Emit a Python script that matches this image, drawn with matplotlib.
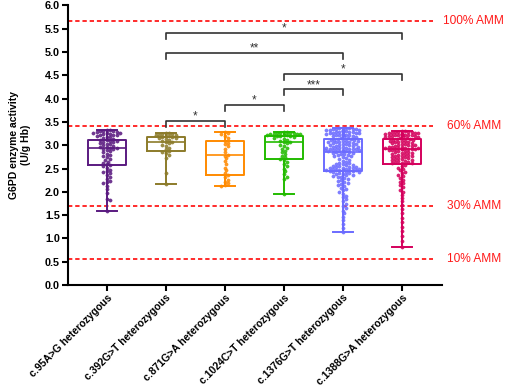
import matplotlib.pyplot as plt
import numpy as np

plt.rcParams["font.family"] = ["Liberation Sans", "DejaVu Sans"]

groups = ["c.95A>G heterozygous", "c.392G>T heterozygous", "c.871G>A heterozygous",
          "c.1024C>T heterozygous", "c.1376G>T heterozygous", "c.1388G>A heterozygous"]
colors = ["#5a1a80", "#8c7b2a", "#ff8a00", "#22bb00", "#6b6bff", "#d4005c"]

# box stats (whiskers = min / max)
lows = [1.60, 2.16, 2.12, 1.95, 1.13, 0.82]
q1s = [2.58, 2.88, 2.36, 2.71, 2.44, 2.60]
meds = [2.95, 3.08, 2.79, 3.08, 2.86, 2.91]
q3s = [3.11, 3.17, 3.10, 3.20, 3.13, 3.13]
highs = [3.33, 3.27, 3.29, 3.28, 3.38, 3.30]

g0 = [3.33, 3.32, 3.31, 3.30, 3.30, 3.29, 3.28, 3.27, 3.27, 3.26, 3.25, 3.24, 3.23, 3.22,
      3.21, 3.20, 3.18, 3.17, 3.15, 3.14, 3.12, 3.11, 3.10, 3.09, 3.08, 3.06, 3.05, 3.03,
      3.02, 3.00, 2.99, 2.97, 2.96, 2.95, 2.94, 2.93, 2.91, 2.89, 2.87, 2.85, 2.82, 2.80,
      2.77, 2.74, 2.71, 2.68, 2.65, 2.62, 2.59, 2.57, 2.55, 2.52, 2.48, 2.45, 2.42, 2.40,
      2.37, 2.33, 2.28, 2.23, 2.21, 2.18, 2.13, 2.06, 1.98, 1.85, 1.82, 1.60]
g1 = [3.27, 3.26, 3.25, 3.24, 3.23, 3.22, 3.21, 3.20, 3.19, 3.18, 3.17, 3.16, 3.15, 3.13,
      3.11, 3.09, 3.08, 3.06, 3.04, 3.01, 2.98, 2.95, 2.91, 2.88, 2.86, 2.83, 2.79, 2.73,
      2.40, 2.16]
g2 = [3.29, 3.27, 3.24, 3.20, 3.15, 3.10, 3.05, 3.02, 2.98, 2.92, 2.85, 2.80, 2.78, 2.72,
      2.66, 2.60, 2.52, 2.46, 2.40, 2.36, 2.31, 2.26, 2.22, 2.18, 2.15, 2.12]
g3 = [3.28, 3.28, 3.27, 3.27, 3.26, 3.26, 3.25, 3.25, 3.24, 3.24, 3.23, 3.23, 3.22, 3.21,
      3.20, 3.20, 3.19, 3.18, 3.16, 3.14, 3.12, 3.10, 3.08, 3.06, 3.04, 3.01, 2.98, 2.95,
      2.92, 2.88, 2.85, 2.81, 2.77, 2.74, 2.71, 2.68, 2.64, 2.60, 2.55, 2.50, 2.44, 2.38,
      2.33, 2.28, 1.95]
g4 = [3.38, 3.37, 3.36, 3.36, 3.35, 3.35, 3.34, 3.34, 3.33, 3.33, 3.32, 3.32, 3.31, 3.31,
      3.30, 3.30, 3.29, 3.29, 3.28, 3.28, 3.27, 3.27, 3.26, 3.26, 3.25, 3.25, 3.24, 3.23,
      3.23, 3.22, 3.21, 3.21, 3.20, 3.19, 3.18, 3.17, 3.16, 3.15, 3.14, 3.13,
      3.12, 3.11, 3.11, 3.10, 3.09, 3.09, 3.08, 3.07, 3.06, 3.06, 3.05, 3.04, 3.03, 3.03,
      3.02, 3.01, 3.00, 3.00, 2.99, 2.98, 2.97, 2.97, 2.96, 2.95, 2.95, 2.94, 2.93, 2.93,
      2.92, 2.91, 2.91, 2.90, 2.90, 2.89, 2.89, 2.88, 2.88, 2.87, 2.87, 2.86,
      2.85, 2.84, 2.83, 2.82, 2.81, 2.80, 2.79, 2.77, 2.76, 2.74, 2.72, 2.70, 2.68, 2.66,
      2.64, 2.62, 2.61, 2.60, 2.59, 2.58, 2.57, 2.56, 2.55, 2.54, 2.54, 2.53, 2.52, 2.52,
      2.51, 2.50, 2.50, 2.49, 2.48, 2.48, 2.47, 2.47, 2.46, 2.46, 2.45, 2.44,
      2.43, 2.42, 2.42, 2.41, 2.40, 2.39, 2.38, 2.37, 2.36, 2.35, 2.33, 2.31, 2.29, 2.27,
      2.25, 2.23, 2.21, 2.19, 2.17, 2.15, 2.12, 2.09, 2.06, 2.03, 2.00, 1.96, 1.92, 1.88,
      1.84, 1.80, 1.75, 1.70, 1.65, 1.60, 1.54, 1.47, 1.40, 1.32, 1.22, 1.13]
g5 = [3.30, 3.30, 3.29, 3.29, 3.28, 3.28, 3.27, 3.27, 3.26, 3.26, 3.25, 3.25, 3.24, 3.24,
      3.23, 3.23, 3.22, 3.22, 3.21, 3.21, 3.20, 3.20, 3.19, 3.18, 3.18, 3.17, 3.16, 3.15,
      3.14, 3.13,
      3.12, 3.11, 3.10, 3.10, 3.09, 3.08, 3.07, 3.06, 3.05, 3.04, 3.03, 3.02, 3.01, 3.00,
      3.00, 2.99, 2.98, 2.97, 2.96, 2.96, 2.95, 2.95, 2.94, 2.94, 2.93, 2.93, 2.92, 2.92,
      2.91, 2.91,
      2.90, 2.89, 2.88, 2.87, 2.86, 2.85, 2.84, 2.83, 2.82, 2.81, 2.80, 2.79, 2.78, 2.77,
      2.76, 2.75, 2.74, 2.73, 2.72, 2.71, 2.70, 2.69, 2.68, 2.67, 2.66, 2.65, 2.64, 2.63,
      2.62, 2.61,
      2.58, 2.55, 2.52, 2.49, 2.46, 2.43, 2.40, 2.37, 2.34, 2.30, 2.26, 2.22, 2.18, 2.14,
      2.10, 2.05, 2.00, 1.94, 1.87, 1.80, 1.72, 1.64, 1.55, 1.45, 1.35, 1.25, 1.15, 1.05,
      0.95, 0.82]
points = [g0, g1, g2, g3, g4, g5]

ref_vals = [5.67, 3.41, 1.70, 0.57]
ref_labels = ["100% AMM", "60% AMM", "30% AMM", "10% AMM"]

# (group a, group b, bracket height, stars)
sig = [(1, 5, 5.41, "*"), (1, 4, 4.99, "**"), (3, 5, 4.53, "*"),
       (3, 4, 4.20, "***"), (2, 3, 3.87, "*"), (1, 2, 3.52, "*")]


def swarm(vals, xpx=59.0, ypx=46.6, d=3.0, maxw=0.31):
    # simple deterministic beeswarm offsets (in data units)
    vals = np.asarray(vals)
    order = np.argsort(-vals, kind="stable")
    placed = []
    offs = np.zeros(len(vals))
    cands = [0.0]
    for k in range(1, 40):
        cands += [k * d * 0.55, -k * d * 0.55]
    for i in order:
        y = vals[i] * ypx
        chosen = 0.0
        for c in cands:
            if abs(c) > maxw * xpx:
                break
            if all((c - px) ** 2 + (y - py) ** 2 >= d * d for px, py in placed):
                chosen = c
                break
        placed.append((chosen, y))
        offs[i] = chosen / xpx
    return offs


fig = plt.figure(figsize=(5.05, 3.9), dpi=100)
ax = fig.add_axes([0.134, 0.269, 0.741, 0.717])

pos = np.arange(len(groups))
for v, lab in zip(ref_vals, ref_labels):
    ax.axhline(v, xmin=0, xmax=0.975, color="#ff1a1a", lw=1.3, ls=(0, (2.4, 1.6)), zorder=1)
    ax.text(1.085, v, lab, transform=ax.get_yaxis_transform(), color="#ff1a1a",
            fontsize=8.6, ha="center", va="center", clip_on=False)

for i in range(len(groups)):
    st = [dict(whislo=lows[i], q1=q1s[i], med=meds[i], q3=q3s[i], whishi=highs[i], fliers=[])]
    c = colors[i]
    ax.bxp(st, positions=[pos[i]], widths=0.64, capwidths=0.34, showfliers=False,
           boxprops=dict(color=c, lw=1.4), whiskerprops=dict(color=c, lw=1.4),
           capprops=dict(color=c, lw=1.4), medianprops=dict(color=c, lw=1.2),
           manage_ticks=False, zorder=2)
    offs = swarm(points[i])
    ax.plot(pos[i] + offs, points[i], "o", ms=2.3, mfc=c, mec=c, mew=0.4,
            alpha=0.85, ls="none", zorder=3)

for a, b, h, s in sig:
    ax.plot([pos[a], pos[a], pos[b], pos[b]], [h - 0.13, h, h, h - 0.13],
            color="#333333", lw=1.2, zorder=4)
    ax.text((pos[a] + pos[b]) / 2, h + 0.03, s, ha="center", va="baseline",
            fontsize=8.5, color="#333333")

ax.set_xlim(-0.66, 5.68)
ax.set_ylim(0, 6)
ax.set_yticks(np.arange(0, 6.01, 0.5))
ax.set_yticklabels([f"{t:.1f}" for t in np.arange(0, 6.01, 0.5)], fontweight="bold",
                   fontsize=7.8)
ax.set_xticks(pos)
ax.set_xticklabels(groups, rotation=45, ha="right", va="top", rotation_mode="anchor",
                   fontweight="bold", fontsize=7.5)
ax.set_ylabel("G6PD enzyme activity\n(U/g Hb)", fontweight="bold", fontsize=7.5,
              labelpad=10, linespacing=1.2)

for sp in ["top", "right"]:
    ax.spines[sp].set_visible(False)
for sp in ["left", "bottom"]:
    ax.spines[sp].set_linewidth(1.5)
ax.tick_params(axis="both", width=1.5, length=4, pad=1.5)

fig.savefig("out.png", dpi=100)
